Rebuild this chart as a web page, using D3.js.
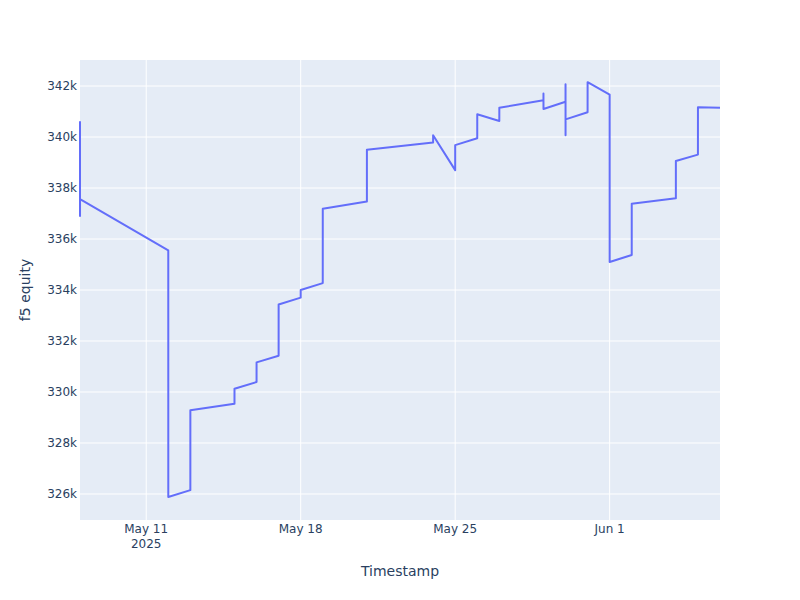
<!DOCTYPE html>
<html lang="en">
<head>
    <meta charset="UTF-8">
    <title>f5 equity</title>
    <style>
        body { margin: 0; background: #fff; }
        text { font-family: Verdana, "DejaVu Sans", sans-serif; fill: #2a3f5f; }
    </style>
</head>
<body>
    <svg width="800" height="600"></svg>
    <script src="https://d3js.org/d3.v7.min.js"></script>
<script>

// data
const timestamps = [
    "2025-05-08T00:00", "2025-05-08T00:01", "2025-05-08T00:02",
    "2025-05-12T00:00", "2025-05-12T00:01",
    "2025-05-13T00:00", "2025-05-13T00:01",
    "2025-05-15T00:00", "2025-05-15T00:01",
    "2025-05-16T00:00", "2025-05-16T00:01",
    "2025-05-17T00:00", "2025-05-17T00:01",
    "2025-05-18T00:00", "2025-05-18T00:01",
    "2025-05-19T00:00", "2025-05-19T00:01",
    "2025-05-21T00:00", "2025-05-21T00:01",
    "2025-05-24T00:00", "2025-05-24T00:01",
    "2025-05-25T00:00", "2025-05-25T00:01",
    "2025-05-26T00:00", "2025-05-26T00:01",
    "2025-05-27T00:00", "2025-05-27T00:01",
    "2025-05-29T00:00", "2025-05-29T00:01", "2025-05-29T00:02",
    "2025-05-30T00:00", "2025-05-30T00:01", "2025-05-30T00:02", "2025-05-30T00:03",
    "2025-05-31T00:00", "2025-05-31T00:01",
    "2025-06-01T00:00", "2025-06-01T00:01",
    "2025-06-02T00:00", "2025-06-02T00:01",
    "2025-06-04T00:00", "2025-06-04T00:01",
    "2025-06-05T00:00", "2025-06-05T00:01",
    "2025-06-06T00:00"
];
const equity = [
    340620, 336900, 337560,
    335550, 325880,
    326150, 329280,
    329540, 330130,
    330390, 331160,
    331420, 333430,
    333700, 334000,
    334270, 337190,
    337470, 339500,
    339780, 340070,
    338700, 339680,
    339950, 340890,
    340630, 341150,
    341440, 341710, 341100,
    341380, 342070, 340070, 340690,
    340970, 342150,
    341660, 335100,
    335370, 337380,
    337600, 339060,
    339310, 341170,
    341150
];
const yTicks = [326000, 328000, 330000, 332000, 334000, 336000, 338000, 340000, 342000];
const xTicks = ["2025-05-11", "2025-05-18", "2025-05-25", "2025-06-01"];

const svg = d3.select("svg");
const width = 800;
const height = 600;
const margin = { top: 60, right: 80, bottom: 80, left: 80 };
const innerW = width - margin.left - margin.right;
const innerH = height - margin.top - margin.bottom;

const parse = d3.isoParse;
const points = timestamps.map((t, i) => ({ t: parse(t), v: equity[i] }));

const x = d3.scaleTime()
    .domain(d3.extent(points, d => d.t))
    .range([margin.left, margin.left + innerW]);

const y = d3.scaleLinear()
    .domain([324980, 343020])
    .range([margin.top + innerH, margin.top]);

// plot background
svg.append("rect")
    .attr("x", margin.left)
    .attr("y", margin.top)
    .attr("width", innerW)
    .attr("height", innerH)
    .attr("fill", "#E5ECF6");

// grid
svg.append("g")
    .selectAll("line")
    .data(yTicks)
    .enter()
    .append("line")
    .attr("x1", margin.left)
    .attr("x2", margin.left + innerW)
    .attr("y1", d => y(d))
    .attr("y2", d => y(d))
    .attr("stroke", "#fff")
    .attr("stroke-width", 1);

svg.append("g")
    .selectAll("line")
    .data(xTicks)
    .enter()
    .append("line")
    .attr("x1", d => x(parse(d)))
    .attr("x2", d => x(parse(d)))
    .attr("y1", margin.top)
    .attr("y2", margin.top + innerH)
    .attr("stroke", "#fff")
    .attr("stroke-width", 1);

// y tick labels
const yAxis = svg.append("g")
    .attr("transform", `translate(${margin.left},0)`)
    .call(d3.axisLeft(y).tickValues(yTicks).tickSize(0).tickPadding(3)
        .tickFormat(d => d / 1000 + "k"));
yAxis.select(".domain").remove();
yAxis.selectAll("text")
    .attr("font-size", 12)
    .style("font-family", 'Verdana, "DejaVu Sans", sans-serif')
    .style("fill", "#2a3f5f");

// x tick labels
const fmt = d3.timeFormat("%b %-d");
const xLab = svg.append("g")
    .selectAll("text")
    .data(xTicks)
    .enter()
    .append("text")
    .attr("x", d => x(parse(d)))
    .attr("y", 533)
    .attr("text-anchor", "middle")
    .attr("font-size", 12);
xLab.append("tspan")
    .attr("x", d => x(parse(d)))
    .text(d => fmt(parse(d)));
xLab.filter((d, i) => i === 0)
    .append("tspan")
    .attr("x", d => x(parse(d)))
    .attr("dy", 15)
    .text(d => parse(d).getFullYear());

// line
const line = d3.line()
    .x(d => x(d.t))
    .y(d => y(d.v));

svg.append("path")
    .datum(points)
    .attr("d", line)
    .attr("fill", "none")
    .attr("stroke", "#636efa")
    .attr("stroke-width", 2)
    .attr("stroke-linejoin", "round");

// axis titles
svg.append("text")
    .attr("x", margin.left + innerW / 2)
    .attr("y", 576)
    .attr("text-anchor", "middle")
    .attr("font-size", 14)
    .text("Timestamp");

svg.append("text")
    .attr("transform", `translate(30,${margin.top + innerH / 2}) rotate(-90)`)
    .attr("text-anchor", "middle")
    .attr("font-size", 14)
    .text("f5 equity");

</script>
</body>
</html>
